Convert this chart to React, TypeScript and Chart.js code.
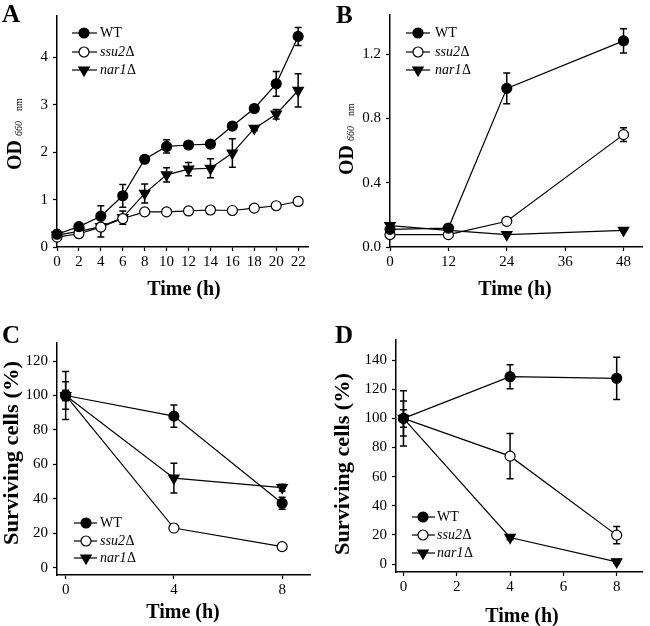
import React, { useEffect, useRef } from "react";
import { Chart, registerables } from "chart.js";

Chart.register(...registerables);

const SERIF = '"Liberation Serif", "Times New Roman", Times, serif';

// ---------- data ----------
const STRAINS = ["WT", "ssu2Δ", "nar1Δ"];

// Panel A
const A_TIME = [0, 2, 4, 6, 8, 10, 12, 14, 16, 18, 20, 22];
const A_WT = [0.27, 0.43, 0.65, 1.08, 1.85, 2.12, 2.15, 2.17, 2.55, 2.92, 3.44, 4.44];
const A_WT_ERR = [0.03, 0.04, 0.22, 0.24, 0.04, 0.14, 0.05, 0.04, 0.04, 0.05, 0.26, 0.19];
const A_SSU2 = [0.21, 0.28, 0.42, 0.6, 0.74, 0.74, 0.76, 0.78, 0.77, 0.82, 0.87, 0.96];
const A_SSU2_ERR = [0.02, 0.02, 0.03, 0.03, 0.03, 0.02, 0.02, 0.02, 0.02, 0.02, 0.03, 0.03];
const A_NAR1 = [0.25, 0.33, 0.43, 0.62, 1.13, 1.52, 1.64, 1.66, 1.98, 2.5, 2.8, 3.3];
const A_NAR1_ERR = [0.03, 0.04, 0.22, 0.14, 0.2, 0.15, 0.14, 0.2, 0.3, 0.05, 0.1, 0.35];
const A_X_TICKS = [0, 2, 4, 6, 8, 10, 12, 14, 16, 18, 20, 22];
const A_Y_TICKS = [0, 1, 2, 3, 4];

// Panel B
const B_TIME = [0, 12, 24, 48];
const B_WT = [0.11, 0.118, 0.988, 1.284];
const B_WT_ERR = [0.01, 0.01, 0.095, 0.075];
const B_SSU2 = [0.077, 0.077, 0.16, 0.7];
const B_SSU2_ERR = [0.005, 0.005, 0.01, 0.043];
const B_NAR1 = [0.133, 0.104, 0.077, 0.104];
const B_NAR1_ERR = [0.01, 0.01, 0.005, 0.005];
const B_X_TICKS = [0, 12, 24, 36, 48];
const B_Y_TICKS = [0, 0.4, 0.8, 1.2];

// Panel C
const C_TIME = [0, 4, 8];
const C_WT = [100, 88, 37.4];
const C_WT_ERR = [14, 6.5, 3.5];
const C_SSU2 = [100, 23, 12.2];
const C_SSU2_ERR = [3, 2, 1];
const C_NAR1 = [100, 52, 46.5];
const C_NAR1_ERR = [8, 8.7, 2];
const C_X_TICKS = [0, 4, 8];
const C_Y_TICKS = [0, 20, 40, 60, 80, 100, 120];

// Panel D
const D_TIME = [0, 4, 8];
const D_WT = [100, 128.6, 127.5];
const D_WT_ERR = [19, 8.2, 14.5];
const D_SSU2 = [100, 74.1, 19.9];
const D_SSU2_ERR = [12, 15.5, 6];
const D_NAR1 = [100, 18.3, 1.6];
const D_NAR1_ERR = [6, 1.5, 1];
const D_X_TICKS = [0, 2, 4, 6, 8];
const D_Y_TICKS = [0, 20, 40, 60, 80, 100, 120, 140];

// ---------- types ----------
type Marker = "filled" | "open" | "tri";
type Series = { values: number[]; errors: number[]; marker: Marker };
type PanelCfg = {
  left: number; top: number; w: number; h: number;
  padTop: number; padRight: number; yAxisW: number; xAxisH: number;
  time: number[]; series: Series[];
  xMin: number; xMax: number; xTicks: number[];
  yMin: number; yMax: number; yTicks: number[]; yDec: number;
  letter: string; letterX: number; letterY: number;
  xTitleX: number; xTitleY: number;
  yTitle: "OD" | "SURV"; yTitleX: number; yTitleStart: number; yTitleLen?: number;
  legX1: number; legX2: number; legMarkX: number; legTextX: number; legRows: number[];
};

const MARKERS: Marker[] = ["filled", "open", "tri"];

function mkSeries(vals: number[][], errs: number[][]): Series[] {
  return vals.map((v, i) => ({ values: v, errors: errs[i], marker: MARKERS[i] }));
}

const PANELS: PanelCfg[] = [
  {
    left: 0, top: 0, w: 325, h: 305,
    padTop: 16, padRight: 17, yAxisW: 57, xAxisH: 58,
    time: A_TIME, series: mkSeries([A_WT, A_SSU2, A_NAR1], [A_WT_ERR, A_SSU2_ERR, A_NAR1_ERR]),
    xMin: 0, xMax: 22.9, xTicks: A_X_TICKS,
    yMin: 0, yMax: 4.87, yTicks: A_Y_TICKS, yDec: 0,
    letter: "A", letterX: 2, letterY: 22,
    xTitleX: 184, xTitleY: 295,
    yTitle: "OD", yTitleX: 21, yTitleStart: 170,
    legX1: 72, legX2: 97, legMarkX: 84, legTextX: 100, legRows: [33, 52, 70],
  },
  {
    left: 325, top: 0, w: 325, h: 305,
    padTop: 15, padRight: 8, yAxisW: 65, xAxisH: 58,
    time: B_TIME, series: mkSeries([B_WT, B_SSU2, B_NAR1], [B_WT_ERR, B_SSU2_ERR, B_NAR1_ERR]),
    xMin: 0, xMax: 51.8, xTicks: B_X_TICKS,
    yMin: 0, yMax: 1.445, yTicks: B_Y_TICKS, yDec: 1,
    letter: "B", letterX: 11, letterY: 23,
    xTitleX: 190, xTitleY: 295,
    yTitle: "OD", yTitleX: 28, yTitleStart: 175,
    legX1: 81, legX2: 105, legMarkX: 93, legTextX: 110, legRows: [33, 52, 70],
  },
  {
    left: 0, top: 305, w: 325, h: 321,
    padTop: 38, padRight: 15, yAxisW: 57, xAxisH: 51,
    time: C_TIME, series: mkSeries([C_WT, C_SSU2, C_NAR1], [C_WT_ERR, C_SSU2_ERR, C_NAR1_ERR]),
    xMin: -0.32, xMax: 9.03, xTicks: C_X_TICKS,
    yMin: -4.3, yMax: 130.5, yTicks: C_Y_TICKS, yDec: 0,
    letter: "C", letterX: 2, letterY: 38,
    xTitleX: 183, xTitleY: 313,
    yTitle: "SURV", yTitleX: 18, yTitleStart: 240, yTitleLen: 184,
    legX1: 74, legX2: 97, legMarkX: 86, legTextX: 100, legRows: [218, 236, 253],
  },
  {
    left: 325, top: 305, w: 325, h: 321,
    padTop: 35, padRight: 2, yAxisW: 71, xAxisH: 54,
    time: D_TIME, series: mkSeries([D_WT, D_SSU2, D_NAR1], [D_WT_ERR, D_SSU2_ERR, D_NAR1_ERR]),
    xMin: -0.28, xMax: 8.98, xTicks: D_X_TICKS,
    yMin: -5.4, yMax: 153.8, yTicks: D_Y_TICKS, yDec: 0,
    letter: "D", letterX: 10, letterY: 38,
    xTitleX: 197, xTitleY: 317,
    yTitle: "SURV", yTitleX: 24, yTitleStart: 250, yTitleLen: 182,
    legX1: 87, legX2: 110, legMarkX: 98, legTextX: 112, legRows: [212, 230, 248],
  },
];

// ---------- drawing helpers ----------
function drawMarker(ctx: CanvasRenderingContext2D, m: Marker, x: number, y: number) {
  ctx.save();
  ctx.lineWidth = 1.2;
  ctx.strokeStyle = "#000";
  ctx.beginPath();
  if (m === "tri") {
    const r = 6;
    const rad = Math.PI;
    for (let k = 0; k < 3; k++) {
      const a = rad + (k * 2 * Math.PI) / 3;
      const px = x + Math.sin(a) * r;
      const py = y - Math.cos(a) * r;
      if (k === 0) ctx.moveTo(px, py);
      else ctx.lineTo(px, py);
    }
    ctx.closePath();
    ctx.fillStyle = "#000";
  } else {
    ctx.arc(x, y, 5, 0, Math.PI * 2);
    ctx.fillStyle = m === "open" ? "#fff" : "#000";
  }
  ctx.fill();
  ctx.stroke();
  ctx.restore();
}

function drawLabel(ctx: CanvasRenderingContext2D, text: string, x: number, y: number) {
  ctx.save();
  ctx.fillStyle = "#000";
  ctx.textBaseline = "middle";
  ctx.textAlign = "left";
  const i = text.indexOf("Δ");
  if (i < 0) {
    ctx.font = `14px ${SERIF}`;
    ctx.fillText(text, x, y);
  } else {
    const a = text.slice(0, i);
    ctx.font = `italic 14px ${SERIF}`;
    ctx.fillText(a, x, y);
    const wa = ctx.measureText(a).width;
    ctx.font = `14px ${SERIF}`;
    ctx.fillText("Δ", x + wa + 0.5, y);
  }
  ctx.restore();
}

function drawOD(ctx: CanvasRenderingContext2D, bx: number, startY: number) {
  ctx.save();
  ctx.translate(bx, startY);
  ctx.rotate(-Math.PI / 2);
  ctx.fillStyle = "#000";
  ctx.textBaseline = "alphabetic";
  ctx.textAlign = "left";
  const f1 = `bold 20px ${SERIF}`;
  const f2 = `italic 10px ${SERIF}`;
  const f3 = `10px ${SERIF}`;
  let x = 0;
  ctx.font = f1;
  ctx.fillText("OD", x, 0);
  x += ctx.measureText("OD").width + 4;
  ctx.font = f2;
  ctx.fillText("660", x, 1);
  x += ctx.measureText("660").width + 10;
  ctx.font = f3;
  ctx.fillText("nm", x, 1);
  ctx.restore();
}

function drawSurv(ctx: CanvasRenderingContext2D, bx: number, startY: number, len: number) {
  ctx.save();
  ctx.translate(bx, startY);
  ctx.rotate(-Math.PI / 2);
  ctx.fillStyle = "#000";
  ctx.textBaseline = "alphabetic";
  ctx.textAlign = "left";
  ctx.font = `bold 20px ${SERIF}`;
  const t = "Surviving cells (%)";
  const w = ctx.measureText(t).width;
  ctx.scale(len / w, 1);
  ctx.fillText(t, 0, 0);
  ctx.restore();
}

function makeDecor(cfg: PanelCfg) {
  return {
    id: "panelDecor" + cfg.letter,
    beforeDatasetsDraw(chart: any) {
      const ctx: CanvasRenderingContext2D = chart.ctx;
      const xs = chart.scales.x;
      const ys = chart.scales.y;
      ctx.save();
      ctx.strokeStyle = "#000";
      ctx.lineWidth = 1.5;
      chart.data.datasets.forEach((ds: any) => {
        ds.data.forEach((p: any, j: number) => {
          const e = ds.errors[j];
          const px = xs.getPixelForValue(p.x);
          const y1 = ys.getPixelForValue(p.y + e);
          const y2 = ys.getPixelForValue(p.y - e);
          ctx.beginPath();
          ctx.moveTo(px, y1);
          ctx.lineTo(px, y2);
          ctx.moveTo(px - 3.5, y1);
          ctx.lineTo(px + 3.5, y1);
          ctx.moveTo(px - 3.5, y2);
          ctx.lineTo(px + 3.5, y2);
          ctx.stroke();
        });
      });
      ctx.restore();
    },
    afterDraw(chart: any) {
      const ctx: CanvasRenderingContext2D = chart.ctx;
      ctx.save();
      ctx.fillStyle = "#000";
      // panel letter
      ctx.font = `bold 25px ${SERIF}`;
      ctx.textBaseline = "alphabetic";
      ctx.textAlign = "left";
      ctx.fillText(cfg.letter, cfg.letterX, cfg.letterY);
      // x title
      ctx.font = `bold 20px ${SERIF}`;
      ctx.textAlign = "center";
      ctx.fillText("Time (h)", cfg.xTitleX, cfg.xTitleY);
      ctx.restore();
      // y title
      if (cfg.yTitle === "OD") drawOD(ctx, cfg.yTitleX, cfg.yTitleStart);
      else drawSurv(ctx, cfg.yTitleX, cfg.yTitleStart, cfg.yTitleLen || 184);
      // legend
      STRAINS.forEach((name, i) => {
        const y = cfg.legRows[i];
        ctx.save();
        ctx.strokeStyle = "#000";
        ctx.lineWidth = 1.2;
        ctx.beginPath();
        ctx.moveTo(cfg.legX1, y);
        ctx.lineTo(cfg.legX2, y);
        ctx.stroke();
        ctx.restore();
        drawMarker(ctx, MARKERS[i], cfg.legMarkX, y);
        drawLabel(ctx, name, cfg.legTextX, y);
      });
    },
  };
}

function axisCfg(min: number, max: number, ticks: number[], dec: number, isX: boolean, size: number) {
  return {
    type: "linear",
    min,
    max,
    afterBuildTicks: (s: any) => {
      s.ticks = ticks.map((v) => ({ value: v }));
    },
    afterFit: (s: any) => {
      if (isX) s.height = size;
      else s.width = size;
    },
    ticks: {
      autoSkip: false,
      maxRotation: 0,
      minRotation: 0,
      padding: isX ? 2 : 5,
      color: "#000",
      font: { family: SERIF, size: 15 },
      callback: (v: any) => Number(v).toFixed(dec),
    },
    grid: {
      display: true,
      drawOnChartArea: false,
      drawTicks: true,
      tickLength: 4,
      tickColor: "#000",
      tickWidth: 1.2,
    },
    border: { display: true, color: "#000", width: 1.5 },
  };
}

function buildConfig(cfg: PanelCfg): any {
  return {
    type: "line",
    data: {
      datasets: cfg.series.map((s, i) => ({
        label: STRAINS[i],
        data: cfg.time.map((t, j) => ({ x: t, y: s.values[j] })),
        errors: s.errors,
        borderColor: "#000",
        borderWidth: 1.2,
        tension: 0,
        fill: false,
        clip: false,
        pointStyle: s.marker === "tri" ? "triangle" : "circle",
        pointRadius: s.marker === "tri" ? 6 : 5,
        pointHoverRadius: s.marker === "tri" ? 6 : 5,
        pointRotation: s.marker === "tri" ? 180 : 0,
        pointBackgroundColor: s.marker === "open" ? "#fff" : "#000",
        pointBorderColor: "#000",
        pointBorderWidth: 1.2,
      })),
    },
    options: {
      animation: false,
      responsive: false,
      devicePixelRatio: 1,
      events: [],
      layout: { padding: { top: cfg.padTop, right: cfg.padRight, left: 0, bottom: 0 } },
      plugins: { legend: { display: false }, tooltip: { enabled: false }, title: { display: false } },
      scales: {
        x: axisCfg(cfg.xMin, cfg.xMax, cfg.xTicks, 0, true, cfg.xAxisH),
        y: axisCfg(cfg.yMin, cfg.yMax, cfg.yTicks, cfg.yDec, false, cfg.yAxisW),
      },
    },
    plugins: [makeDecor(cfg)],
  };
}

function PanelChart({ cfg }: { cfg: PanelCfg }) {
  const ref = useRef<HTMLCanvasElement>(null);
  useEffect(() => {
    if (!ref.current) return;
    const chart = new Chart(ref.current, buildConfig(cfg));
    return () => chart.destroy();
  }, [cfg]);
  return (
    <canvas
      ref={ref}
      width={cfg.w}
      height={cfg.h}
      style={{ position: "absolute", left: cfg.left, top: cfg.top, width: cfg.w, height: cfg.h }}
    />
  );
}

export default function App() {
  return (
    <div style={{ position: "absolute", left: 0, top: 0, width: 650, height: 626, background: "#fff" }}>
      {PANELS.map((p) => (
        <PanelChart key={p.letter} cfg={p} />
      ))}
    </div>
  );
}
